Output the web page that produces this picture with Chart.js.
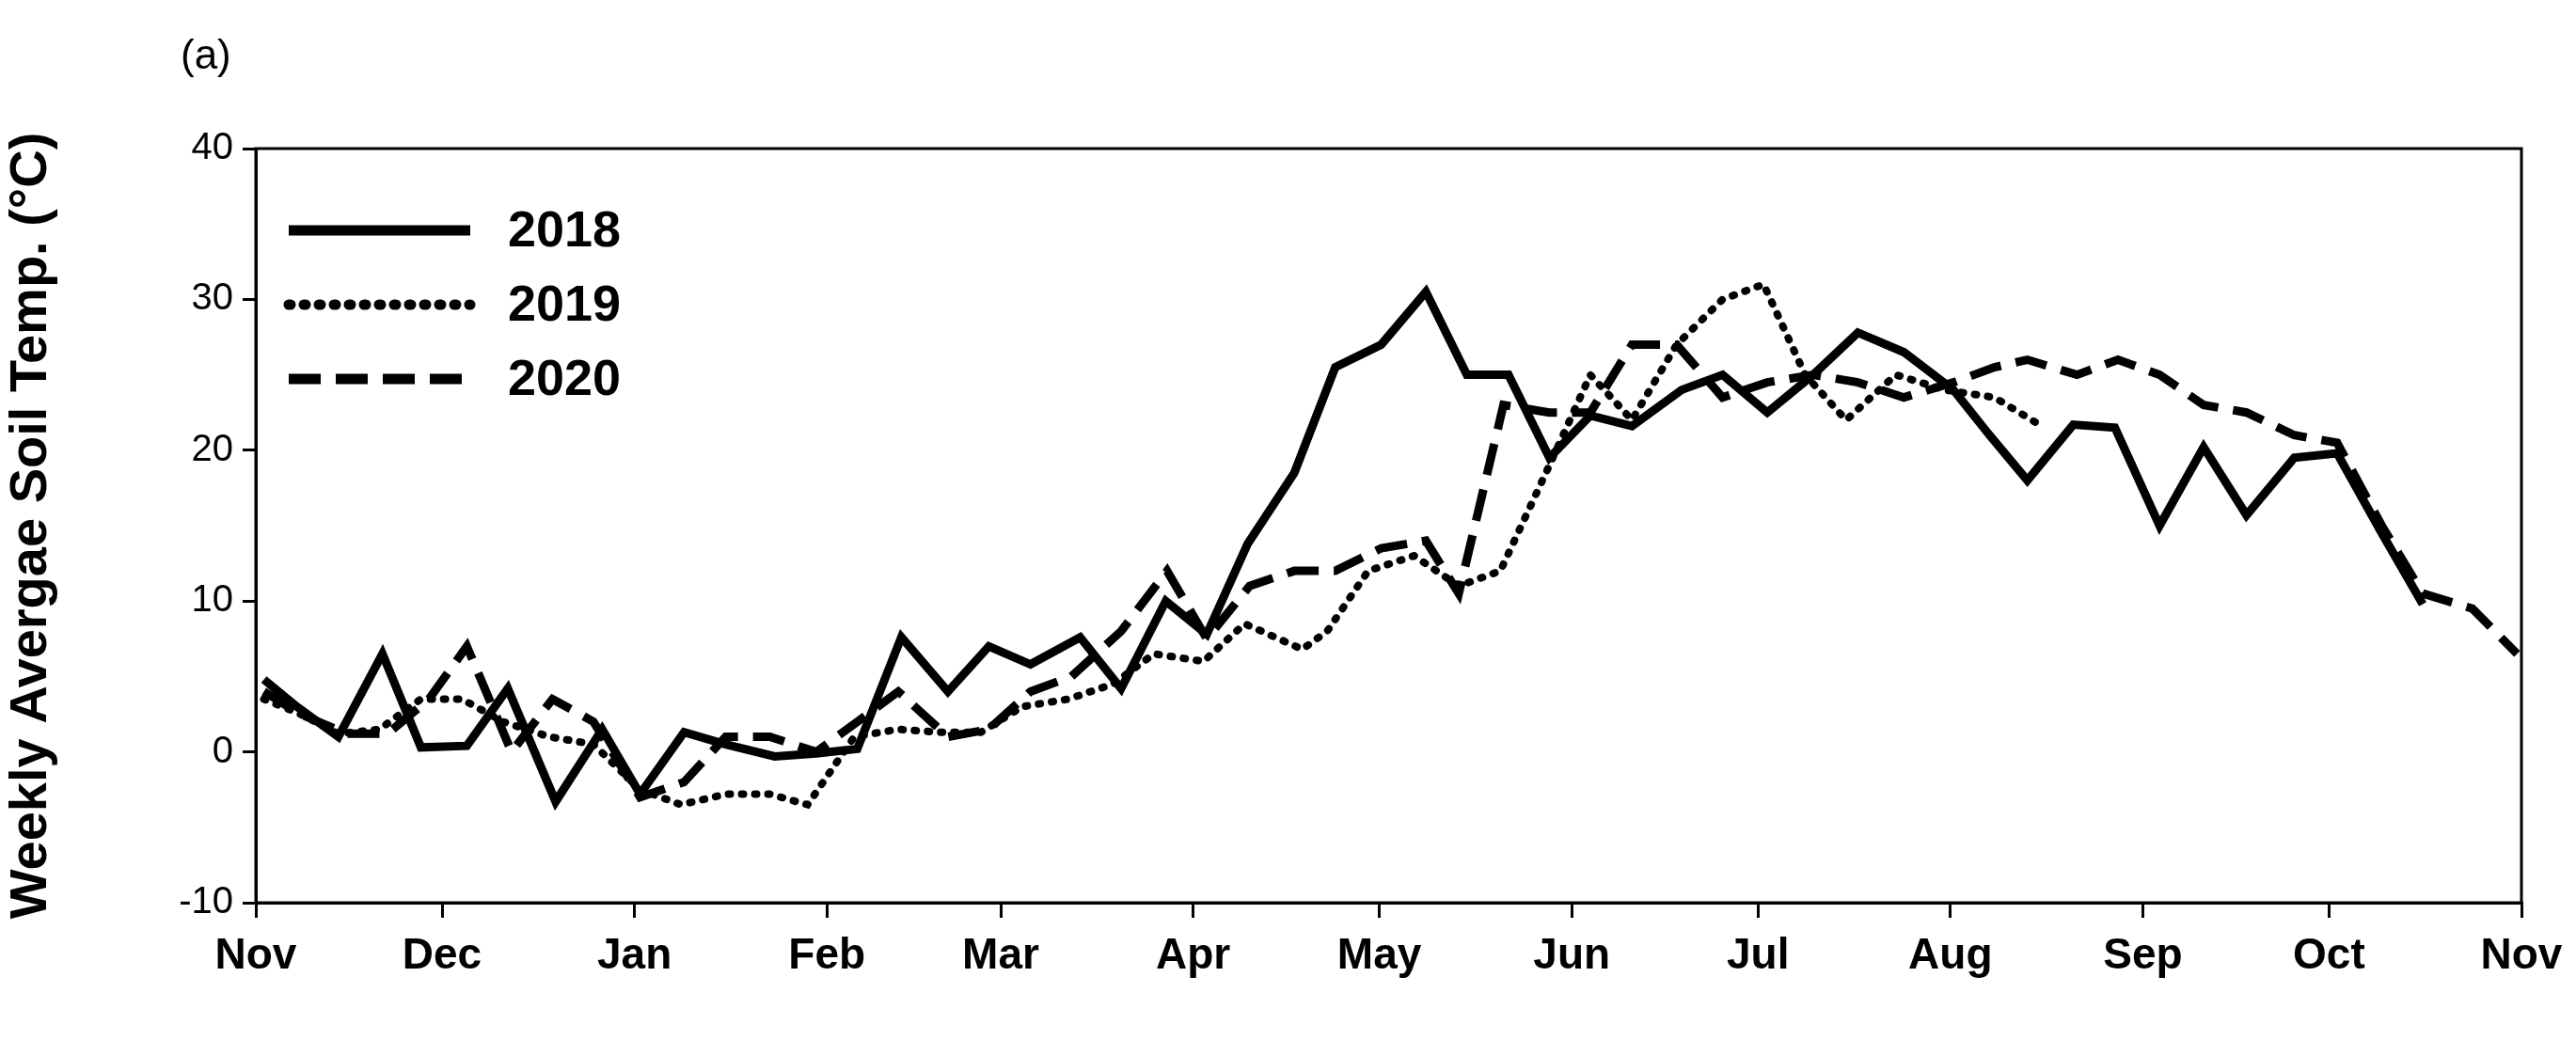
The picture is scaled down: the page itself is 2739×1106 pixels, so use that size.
<!DOCTYPE html>
<html>
<head>
<meta charset="utf-8">
<script src="https://cdn.jsdelivr.net/npm/chart.js@4"></script>
<style>
  body { margin: 0; background: #fff; }
</style>
</head>
<body>
<canvas id="soil" width="2739" height="1106"></canvas>
<script>
const monthDays = [0, 30, 61, 92, 120, 151, 181, 212, 242, 273, 304, 334, 365];
const monthNames = ['Nov', 'Dec', 'Jan', 'Feb', 'Mar', 'Apr', 'May', 'Jun', 'Jul', 'Aug', 'Sep', 'Oct', 'Nov'];

const days2018 = [1.3, 6.6, 13.3, 20.4, 26.6, 34, 40.6, 48.3, 55.8, 61.9, 69, 75.7, 83.6, 90.3, 96.9, 104, 111.5, 118.1, 124.8, 132.8, 139.4, 146.6, 153.2, 159.8, 167.3, 173.9, 181.3, 188.5, 195.1, 201.8, 208.4, 215, 221.7, 229.7, 236.3, 243.5, 250.9, 258.1, 265.5, 273.5, 279.3, 285.4, 292.8, 299.5, 306.7, 313.8, 320.7, 328.4, 335.3, 342.5, 349.1];
const temp2018 = [4.8, 3, 1.0, 6.5, 0.3, 0.4, 4.2, -3.3, 1.5, -2.8, 1.3, 0.5, -0.3, -0.1, 0.2, 7.6, 4.0, 7.0, 5.8, 7.6, 4.2, 10, 7.8, 13.8, 18.5, 25.5, 27, 30.5, 25, 25, 19.5, 22.3, 21.6, 24, 25, 22.5, 25, 27.8, 26.5, 24, 21, 18, 21.7, 21.5, 15, 20.2, 15.7, 19.5, 19.8, 14.5, 9.8];

const days2019 = [1.3, 7.2, 13.3, 19.9, 26.6, 33.2, 39.8, 47.3, 54.4, 61.9, 68.5, 75.7, 82.8, 88.9, 96.4, 103.5, 110.2, 116.8, 123.5, 130.9, 138.1, 144.7, 152.7, 159.3, 168.6, 172.6, 179.2, 186.6, 193.8, 200.5, 208.4, 215, 221.7, 228.9, 236.3, 242.9, 249.6, 256.2, 264.2, 272.1, 280.1, 288.1];
const temp2019 = [3.5, 2.5, 1.2, 1.5, 3.5, 3.5, 2, 1, 0.5, -2.5, -3.5, -2.8, -2.8, -3.5, 1, 1.5, 1.3, 1.3, 3, 3.5, 4.5, 6.5, 6, 8.5, 6.8, 8, 12, 13, 11, 12, 19, 25, 22, 27, 30, 31, 25, 22, 25, 24, 23.5, 21.5];

const days2020 = [1.3, 7.2, 14.6, 21.2, 27.9, 34, 41.2, 47.8, 54.4, 61.9, 69, 75.7, 82.8, 90.3, 96.9, 103.5, 111.5, 118.1, 124.8, 131.4, 139.4, 146.8, 153.2, 160.1, 167.3, 173.9, 181.3, 188.5, 193.8, 201, 208.4, 215, 221.7, 228.9, 236.3, 243.5, 250.9, 258.1, 265.5, 273.5, 280.1, 285.4, 293.4, 300, 306.7, 313.8, 320.7, 328.4, 335.3, 342.5, 349.1, 357.1, 364.3];
const temp2020 = [4, 2.5, 1.2, 1.2, 3.5, 7, 0, 3.5, 2, -3, -2, 1, 1, 0, 2, 4, 1, 1.5, 4, 5, 8, 12, 7.5, 11, 12, 12, 13.5, 14, 10.5, 23, 22.5, 22.5, 27, 27, 23.5, 24.5, 25, 24.5, 23.5, 24.5, 25.5, 26, 25, 26, 25, 23, 22.5, 21, 20.5, 15, 10.5, 9.5, 6.5];

const pts = (xs, ys) => xs.map((x, i) => ({ x: x, y: ys[i] }));

const FONT = 'Liberation Sans, Arial, sans-serif';

const frame = {
  id: 'frame',
  afterDraw(chart) {
    const { ctx, chartArea: a } = chart;
    ctx.save();
    ctx.strokeStyle = '#000';
    ctx.lineWidth = 3;
    ctx.strokeRect(a.left, a.top, a.right - a.left, a.bottom - a.top);
    ctx.fillStyle = '#000';
    ctx.font = '44px ' + FONT;
    ctx.textBaseline = 'middle';
    ctx.fillText('(a)', 192, 61);
    // legend
    const rows = [
      { label: '2018', dash: [], cap: 'butt' },
      { label: '2019', dash: [2, 14], cap: 'round' },
      { label: '2020', dash: [34, 16], cap: 'butt' }
    ];
    ctx.font = 'bold 54px ' + FONT;
    rows.forEach((r, i) => {
      const y = 245 + i * 79;
      ctx.beginPath();
      ctx.lineWidth = 11;
      ctx.lineCap = r.cap;
      ctx.setLineDash(r.dash);
      ctx.moveTo(307, y);
      ctx.lineTo(500, y);
      ctx.stroke();
      ctx.setLineDash([]);
      ctx.fillText(r.label, 540, y + 2);
    });
    ctx.restore();
  }
};

new Chart(document.getElementById('soil'), {
  type: 'line',
  data: {
    datasets: [
      { label: '2018', data: pts(days2018, temp2018), borderColor: '#000', borderWidth: 9, pointRadius: 0, tension: 0 },
      { label: '2019', data: pts(days2019, temp2019), borderColor: '#000', borderWidth: 8, borderDash: [2, 12], borderCapStyle: 'round', pointRadius: 0, tension: 0 },
      { label: '2020', data: pts(days2020, temp2020), borderColor: '#000', borderWidth: 9, borderDash: [34, 16], pointRadius: 0, tension: 0 }
    ]
  },
  options: {
    responsive: false,
    animation: false,
    devicePixelRatio: 1,
    layout: { padding: { top: 158, right: 58, left: 0, bottom: 0 } },
    plugins: { legend: { display: false }, tooltip: { enabled: false } },
    scales: {
      x: {
        type: 'linear',
        min: 0,
        max: 365,
        afterBuildTicks: s => { s.ticks = monthDays.map(v => ({ value: v })); },
        afterFit: s => { s.height = 146; },
        grid: { drawOnChartArea: false, tickLength: 16, color: '#000', lineWidth: 3 },
        border: { color: '#000', width: 3 },
        ticks: {
          autoSkip: false,
          maxRotation: 0,
          color: '#000',
          font: { family: FONT, size: 46, weight: 'bold' },
          padding: 14,
          callback: (v, i) => monthNames[i]
        }
      },
      y: {
        min: -10,
        max: 40,
        afterFit: s => { s.width = 272; },
        grid: { drawOnChartArea: false, tickLength: 14, color: '#000', lineWidth: 3 },
        border: { color: '#000', width: 3 },
        ticks: {
          stepSize: 10,
          color: '#000',
          font: { family: FONT, size: 40 },
          padding: 10
        },
        title: {
          display: true,
          text: 'Weekly Avergae Soil Temp. (°C)',
          color: '#000',
          font: { family: FONT, size: 56, weight: 'bold' },
          padding: { top: 0, bottom: 20 }
        }
      }
    }
  },
  plugins: [frame]
});
</script>
</body>
</html>
